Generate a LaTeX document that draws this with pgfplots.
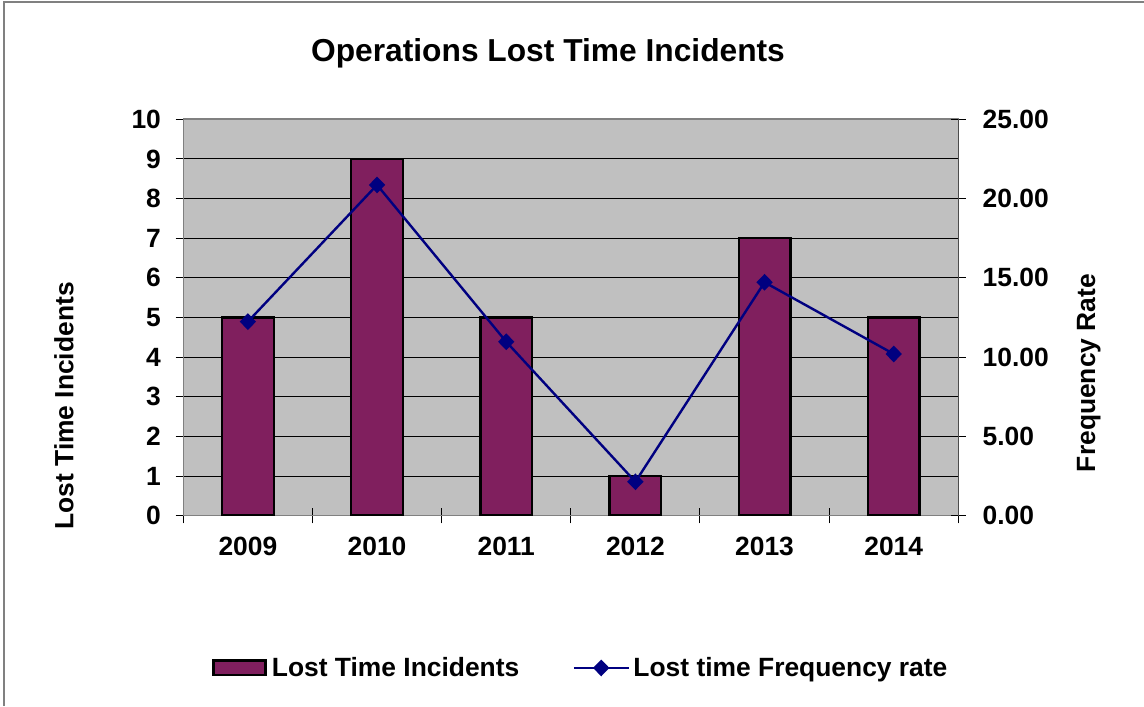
\documentclass[border=0pt]{standalone}
\usepackage{pgfplots}
\pgfplotsset{compat=1.18}
\usepackage{fontspec}
\setmainfont{Liberation Sans}

\definecolor{plum}{RGB}{128,31,94}
\definecolor{navyline}{RGB}{0,0,128}
\definecolor{plotbg}{RGB}{192,192,192}
\definecolor{framegray}{RGB}{128,128,128}
\newcommand\lblfont{\fontsize{19.8}{23}\selectfont\bfseries}
\newcommand\ttlfont{\fontsize{23.8}{28}\selectfont\bfseries}

\pgfplotsset{
  common/.style={
    at={(137.475pt,142.725pt)}, anchor=south west,
    scale only axis, width=581.25pt, height=297.3pt,
    xmin=-0.5, xmax=5.5,
    tick align=center, major tick length=11.5pt,
    tick style={black, line width=0.75pt},
    tick label style={font=\lblfont},
    /pgf/number format/assume math mode=true,
  },
  barlegend/.style={legend image code/.code={
    \draw[fill=plum, draw=black, line width=1.8pt] (0pt,-5.5pt) rectangle (39pt,5.5pt);
    \path (41.5pt,0pt);}},
  linelegend/.style={legend image code/.code={
    \draw[mark repeat=2, mark phase=2, ##1]
      plot coordinates {(0pt,0pt) (20.5pt,0pt) (41pt,0pt)};
    \path (41.8pt,0pt);}},
}

\begin{document}
\begin{tikzpicture}
\useasboundingbox (0,0) rectangle (858pt,529.5pt);

% incidents per year (left axis)
\begin{axis}[common,
  ymin=0, ymax=10, ytick={0,...,10}, ytick pos=left,
  yticklabel style={xshift=-7.5pt},
  xtick={-0.5,0.5,...,5.5}, xticklabels={}, xtick pos=bottom,
  xticklabel style={yshift=-12.75pt},
  extra x ticks={0,...,5},
  extra x tick labels={2009,2010,2011,2012,2013,2014},
  extra x tick style={major tick length=0pt, grid=none},
  axis background/.style={fill=plotbg},
  ymajorgrids, grid style={black, line width=0.75pt},
  axis line style={draw=framegray, line width=1.2pt},
]
\addplot[ybar, bar width=0.4, fill=plum, draw=black, line width=1.8pt]
  coordinates {(0,5) (1,9) (2,5) (3,1) (4,7) (5,5)};
\end{axis}

% frequency rate (right axis)
\begin{axis}[common,
  ymin=0, ymax=25, ytick={0,5,...,25},
  axis y line*=right, axis x line=none,
  axis line style={draw=black!70, line width=1.2pt},
  yticklabel style={xshift=9pt,
    /pgf/number format/.cd, fixed, fixed zerofill, precision=2},
  legend style={at={(0.5135,-0.384)}, anchor=center, draw=none, fill=none,
    font=\lblfont, legend columns=2,
    /tikz/every even column/.append style={column sep=38pt}},
]
\addlegendimage{barlegend}
\addlegendentry{Lost Time Incidents}
\addplot[navyline, line width=1.8pt, mark=diamond*, mark size=5pt,
  mark options={xscale=1.3, solid, fill=navyline}, linelegend]
  coordinates {(0,12.24) (1,20.86) (2,10.97) (3,2.14) (4,14.72) (5,10.20)};
\addlegendentry{Lost time Frequency rate}
\end{axis}

% chart frame, title and axis titles
\begin{scope}[x=0.75pt, y=-0.75pt, yshift=529.5pt]
  \draw[framegray, line width=1.1pt] (4,706) -- (4,2) -- (1144,2);
  \node[anchor=base, inner sep=0pt, font=\ttlfont] at (548,61.7)
    {Operations Lost Time Incidents};
  \node[anchor=base, inner sep=0pt, rotate=90, font=\lblfont] at (73.3,406)
    {Lost Time Incidents};
  \node[anchor=base, inner sep=0pt, rotate=90, font=\lblfont] at (1095,373)
    {Frequency Rate};
\end{scope}
\end{tikzpicture}
\end{document}
